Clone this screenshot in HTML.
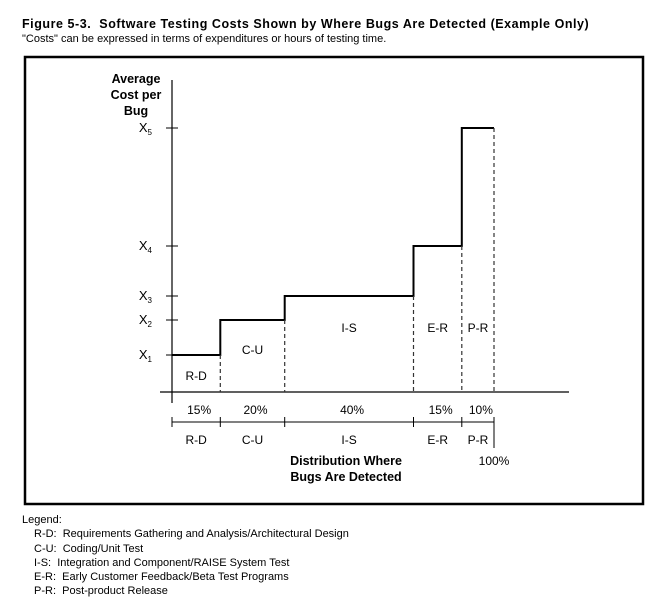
<!DOCTYPE html>
<html><head><meta charset="utf-8"><style>
html,body{margin:0;padding:0;background:#fff;}
body{width:672px;height:608px;position:relative;overflow:hidden;font-family:"Liberation Sans",Arial,sans-serif;color:#000;}
.t{position:absolute;white-space:nowrap;}
</style></head><body>
<div class="t" style="left:22px;top:17px;font-size:12.5px;font-weight:bold;letter-spacing:0.55px;">Figure 5-3.&nbsp; Software Testing Costs Shown by Where Bugs Are Detected (Example Only)</div>
<div class="t" style="left:22px;top:33px;font-size:11px;">"Costs" can be expressed in terms of expenditures or hours of testing time.</div>
<svg width="672" height="510" style="position:absolute;left:0;top:0" id="chart" font-family="Liberation Sans, Arial, sans-serif">
<rect x="25" y="57" width="618" height="447" fill="none" stroke="#000" stroke-width="2.5"/>
</svg>
<div class="t" style="left:22px;top:513px;font-size:11px;line-height:14.3px;">
<div>Legend:</div>
<div style="padding-left:12px">R-D:&nbsp; Requirements Gathering and Analysis/Architectural Design</div>
<div style="padding-left:12px">C-U:&nbsp; Coding/Unit Test</div>
<div style="padding-left:12px">I-S:&nbsp; Integration and Component/RAISE System Test</div>
<div style="padding-left:12px">E-R:&nbsp; Early Customer Feedback/Beta Test Programs</div>
<div style="padding-left:12px">P-R:&nbsp; Post-product Release</div>
</div>
<script>
const categories=["R-D","C-U","I-S","E-R","P-R"];
const percents=[15,20,40,15,10];
const costs=[37,72,96,146,264];
const tickLabels=["1","2","3","4","5"];
const svg=document.getElementById('chart');
const NS="http://www.w3.org/2000/svg";
const x0=172, base=392, pxPerPct=3.22, pxPerCost=1;
function xs(p){return x0+p*pxPerPct;}
function ys(c){return base-c*pxPerCost;}
function mk(tag,attrs,parent){const e=document.createElementNS(NS,tag);for(const k in attrs)e.setAttribute(k,attrs[k]);(parent||svg).appendChild(e);return e;}
function txt(s,x,y,attrs){const e=mk('text',Object.assign({x:x,y:y,'font-size':12,'text-anchor':'middle'},attrs||{}));e.textContent=s;return e;}
const ya=mk('line',{x1:x0,y1:80,x2:x0,y2:403,stroke:'#000','stroke-width':1.2});


const xa=mk('line',{x1:160,y1:base,x2:569,y2:base,stroke:'#000','stroke-width':1.2});


['Average','Cost per','Bug'].forEach((s,i)=>{const t=txt(s,136,83+i*16,{'font-weight':'bold','font-size':12.5});

});
costs.forEach((c,i)=>{const y=ys(c);
const tk=mk('line',{x1:x0-6,y1:y,x2:x0+6,y2:y,stroke:'#000','stroke-width':1});


const t=txt('X',152,y+4,{'text-anchor':'end','font-size':13});
const sub=mk('tspan',{'font-size':8,dy:3},t);sub.textContent=tickLabels[i];

});
let cum=0,d='';
percents.forEach((p,i)=>{const xa1=xs(cum),xb=xs(cum+p),y=ys(costs[i]);
d+=(i===0?'M':'L')+xa1+' '+y+' L'+xb+' '+y+' ';
cum+=p;});
const step=mk('path',{d:d,fill:'none',stroke:'#000','stroke-width':2});


cum=0;
percents.forEach((p,i)=>{const xa1=xs(cum),xb=xs(cum+p),xm=(xa1+xb)/2;cum+=p;
const dl=mk('line',{x1:xb,y1:ys(costs[i]),x2:xb,y2:base,stroke:'#333','stroke-width':1.2,'stroke-dasharray':'4,3'});


const lab=txt(categories[i],xm,i===0?380:(i===1?354:332),{});


const pc=txt(p+'%',xm+3,414,{});


const cl=txt(categories[i],xm,444,{});


const tk=mk('line',{x1:xb,y1:417,x2:xb,y2:i===percents.length-1?448:427,stroke:'#000','stroke-width':1});

});
const t0=mk('line',{x1:x0,y1:417,x2:x0,y2:427,stroke:'#000','stroke-width':1});


const da=mk('line',{x1:x0,y1:422,x2:xs(cum),y2:422,stroke:'#000','stroke-width':1});


const hp=txt('100%',xs(cum),465,{});


['Distribution Where','Bugs Are Detected'].forEach((s,i)=>{const t=txt(s,346,465+i*16,{'font-weight':'bold','font-size':12.5});

});
</script>
</body></html>
